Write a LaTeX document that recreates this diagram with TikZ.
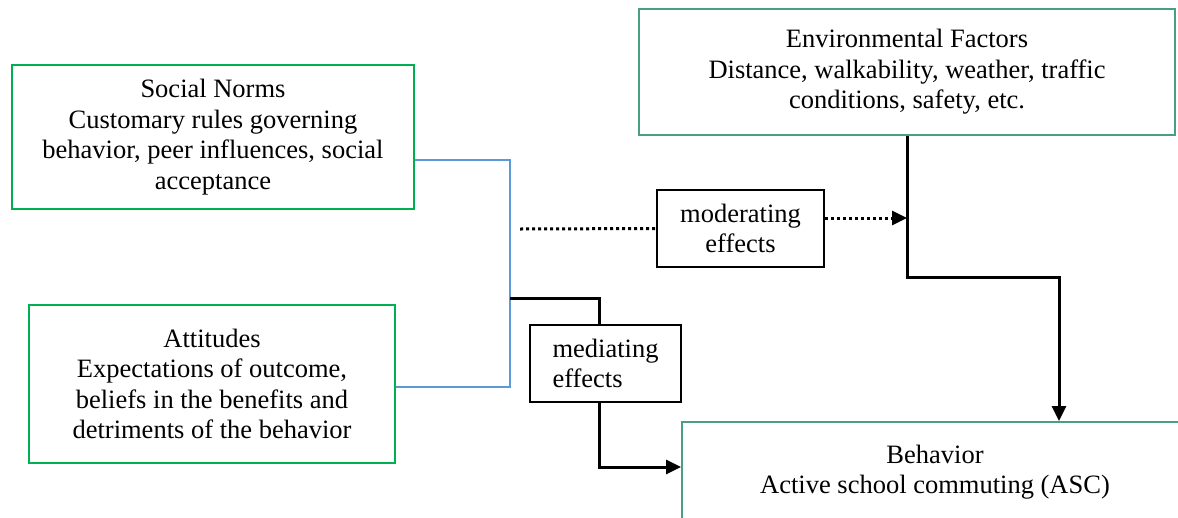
\documentclass[tikz,border=0pt]{standalone}
\usepackage{fontspec}
\setmainfont{Liberation Serif}
\usepackage{xcolor}
\usepackage{tikz}
\usetikzlibrary{positioning, arrows.meta, calc}
\definecolor{fwGreen}{HTML}{00B050}
\definecolor{fwTeal}{HTML}{4A9E84}
\definecolor{fwBlue}{HTML}{5B9BD5}
\tikzset{
  factor/.style={
    rectangle, draw=#1, line width=1.9pt,
    inner sep=4pt,
    align=center,
    font=\fontsize{26.5}{30.5}\selectfont
  },
  effectbox/.style={
    rectangle, draw=black, line width=2.5pt,
    inner sep=4pt,
    minimum height=77pt,
    font=\fontsize{26.5}{30.5}\selectfont
  },
  linkline/.style={fwBlue, line width=1.6pt},
  pathline/.style={black, line width=3pt},
  patharrow/.style={
    -{Triangle[length=15pt, width=14pt]},
    black, line width=3pt
  },
  dotline/.style={black, line width=3pt, dash pattern=on 3pt off 3pt}
}
\begin{document}
\begin{tikzpicture}[x=1pt, y=-1pt]
  \clip (0,0) rectangle (1178,517);
  \fill[white] (0,0) rectangle (1178,517);
  % factors
  \node[factor=fwGreen, minimum width=402pt, minimum height=144pt] (norms) at (213,137)
    {Social Norms\\Customary rules governing\\behavior, peer influences, social\\acceptance};
  \node[factor=fwGreen, minimum width=366pt, minimum height=158pt] (attitudes) at (212,384)
    {Attitudes\\Expectations of outcome,\\beliefs in the benefits and\\detriments of the behavior};
  \node[factor=fwTeal, minimum width=536pt, minimum height=126pt] (environment) at (907,72)
    {Environmental Factors\\Distance, walkability, weather, traffic\\conditions, safety, etc.};
  \node[factor=fwTeal, minimum width=506pt, minimum height=100pt] (behavior) at (935,472)
    {Behavior\\Active school commuting (ASC)};
  % effects
  \node[effectbox, minimum width=167pt, align=center] (moderating) at (740.5,228.5)
    {moderating\\effects};
  \node[effectbox, minimum width=151pt, align=left] (mediating) at (605.5,363.5)
    {mediating\\effects};
  % junctions
  \coordinate (jtop) at (510,160);
  \coordinate (jbot) at (510,387);
  \coordinate (jmed) at (510,298);
  \coordinate (dotstart) at (520,229);
  \coordinate (envturn) at (1059,277);
  % connectors
  \draw[linkline] (jtop -| norms.east) -- (jtop) -- (jbot) -- (jbot -| attitudes.east);
  \draw[pathline] (jmed) -| ([xshift=-6.5pt]mediating.north);
  \draw[patharrow] ([xshift=-6.5pt]mediating.south) |- ([yshift=5pt]behavior.west);
  \draw[dotline] (dotstart) -- (moderating.west);
  \draw[dotline, -{Triangle[length=15pt, width=14pt]}]
    ([yshift=10.5pt]moderating.east) -- ([yshift=10.5pt]moderating.east -| environment.south);
  \draw[patharrow] (environment.south) |- (envturn) -- (envturn |- behavior.north);
\end{tikzpicture}
\end{document}
